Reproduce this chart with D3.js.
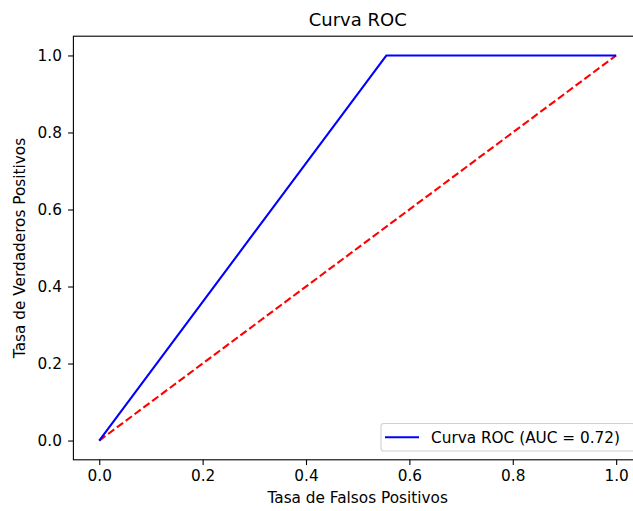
<!DOCTYPE html>
<html>
<head>
<meta charset="utf-8">
<script src="https://cdn.jsdelivr.net/npm/d3@7"></script>
<style>
  html, body { margin: 0; padding: 0; background: #fff; }
  svg { display: block; font-family: "DejaVu Sans", sans-serif; }
</style>
</head>
<body>
<svg id="chart" width="633" height="511"></svg>
<script>
// ROC curve points
const fpr = [0, 0.5556, 1];
const tpr = [0, 1, 1];
// chance diagonal
const diagX = [0, 1];
const diagY = [0, 1];
const aucLabel = "0.72";
const tickValues = [0, 0.2, 0.4, 0.6, 0.8, 1.0];

const svg = d3.select("#chart");
const plot = { left: 73.4, right: 642, top: 36.2, bottom: 459.8 };
const fontSize = "15.3px";

const x = d3.scaleLinear().domain([-0.05, 1.05]).range([plot.left, plot.right]);
const y = d3.scaleLinear().domain([-0.05, 1.05]).range([plot.bottom, plot.top]);

const fmt = d3.format(".1f");

// axes
const xAxis = d3.axisBottom(x).tickValues(tickValues).tickFormat(fmt).tickSize(5.3).tickPadding(5);
const yAxis = d3.axisLeft(y).tickValues(tickValues).tickFormat(fmt).tickSize(5.3).tickPadding(6.2);

const gx = svg.append("g").attr("transform", `translate(0,${plot.bottom})`).call(xAxis);
const gy = svg.append("g").attr("transform", `translate(${plot.left},0)`).call(yAxis);
[gx, gy].forEach(g => {
  g.select(".domain").remove();
  g.selectAll(".tick line").attr("stroke", "#000").attr("stroke-width", 1.1);
  g.selectAll(".tick text").attr("fill", "#000").style("font-size", fontSize).style("font-family", "DejaVu Sans, sans-serif");
});

// lines
const line = d3.line().x(d => x(d[0])).y(d => y(d[1]));

svg.append("path")
  .datum(diagX.map((v, i) => [v, diagY[i]]))
  .attr("d", line)
  .attr("fill", "none")
  .attr("stroke", "#ff0000")
  .attr("stroke-width", 2.1)
  .attr("stroke-dasharray", "7.7,3.3");

svg.append("path")
  .datum(fpr.map((v, i) => [v, tpr[i]]))
  .attr("d", line)
  .attr("fill", "none")
  .attr("stroke", "#0000ff")
  .attr("stroke-width", 2.1)
  .attr("stroke-linejoin", "round");

// frame
svg.append("rect")
  .attr("x", plot.left).attr("y", plot.top)
  .attr("width", plot.right - plot.left).attr("height", plot.bottom - plot.top)
  .attr("fill", "none").attr("stroke", "#000").attr("stroke-width", 1.1);

// title and axis labels
svg.append("text")
  .attr("x", (plot.left + plot.right) / 2).attr("y", 25.5)
  .attr("text-anchor", "middle")
  .style("font-size", "18px")
  .text("Curva ROC");

svg.append("text")
  .attr("x", (plot.left + plot.right) / 2).attr("y", 503)
  .attr("text-anchor", "middle")
  .style("font-size", fontSize)
  .text("Tasa de Falsos Positivos");

svg.append("text")
  .attr("transform", `translate(25,${(plot.top + plot.bottom) / 2}) rotate(-90)`)
  .attr("text-anchor", "middle")
  .style("font-size", fontSize)
  .text("Tasa de Verdaderos Positivos");

// legend
const lg = svg.append("g");
const lgX = 381, lgY = 423.5, lgW = 254, lgH = 27.5;
lg.append("rect")
  .attr("x", lgX).attr("y", lgY).attr("width", lgW).attr("height", lgH)
  .attr("rx", 2.8)
  .attr("fill", "#fff").attr("fill-opacity", 0.8)
  .attr("stroke", "#d0d0d0").attr("stroke-width", 1.1);
lg.append("line")
  .attr("x1", lgX + 4).attr("x2", lgX + 38)
  .attr("y1", lgY + lgH / 2).attr("y2", lgY + lgH / 2)
  .attr("stroke", "#0000ff").attr("stroke-width", 2.1);
lg.append("text")
  .attr("x", lgX + 50).attr("y", lgY + lgH / 2)
  .attr("dy", "0.35em")
  .style("font-size", fontSize)
  .text(`Curva ROC (AUC = ${aucLabel})`);
</script>
</body>
</html>
